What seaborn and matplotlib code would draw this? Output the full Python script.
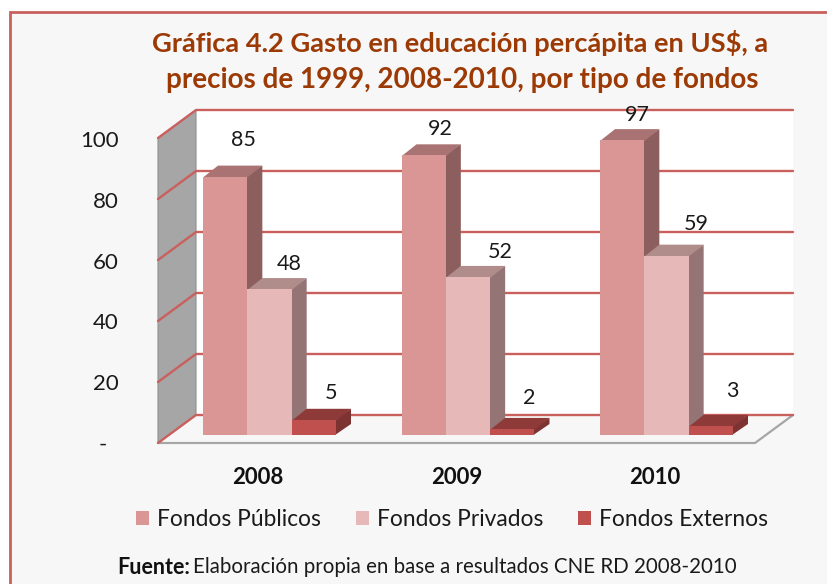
import numpy as np
import pandas as pd
import matplotlib
matplotlib.use('Agg')
import matplotlib.pyplot as plt
from matplotlib.patches import Polygon, Rectangle
from matplotlib.transforms import Affine2D, ScaledTranslation
import seaborn as sns

years = ['2008', '2009', '2010']
fund_names = ['Fondos Públicos', 'Fondos Privados', 'Fondos Externos']
publicos = [85, 92, 97]
privados = [48, 52, 59]
externos = [5, 2, 3]
y_ticks = [0, 20, 40, 60, 80, 100]
y_labels = ['-  ', '20', '40', '60', '80', '100']

front_colors = ['#D99694', '#E6B9B8', '#C0504D']
side_colors = ['#8C5F5E', '#957475', '#7C3331']
top_colors = ['#A87372', '#B08C8A', '#8E3A38']
red_line = '#C9605D'
back_color = '#F7F7F7'

df = pd.DataFrame({
    'year': years * 3,
    'fund': np.repeat(fund_names, 3),
    'value': publicos + privados + externos,
})

W, H = 828, 584
sns.set_theme(style='white')
plt.rcParams['font.family'] = ['Lato', 'DejaVu Sans']

fig = plt.figure(figsize=(W / 100, H / 100), dpi=100, facecolor='white')
# picture coordinates, y going down, for the walls and the frame
px = Affine2D().scale(1 / W, -1 / H).translate(0, 1) + fig.transFigure

fig.add_artist(Rectangle((10, 12), 830, 590, transform=px, facecolor=back_color,
                         edgecolor=red_line, linewidth=2, zorder=-1))

ax = fig.add_axes([170.25 / W, 1 - 435 / H, 595.5 / W, 304 / H])
ax.patch.set_alpha(0)

sns.barplot(data=df, x='year', y='value', hue='fund', hue_order=fund_names, order=years,
            palette=front_colors, saturation=1, width=0.67, gap=0, linewidth=0, edgecolor='none', ax=ax)
ax.set_xlim(-0.5, 2.5)
ax.set_ylim(0, 100)
ax.set_xlabel('')
ax.set_ylabel('')
sns.despine(ax=ax, left=True, bottom=True)

# walls and floor
ax.add_patch(Polygon([(196, 110), (793, 110), (793, 415), (196, 415)], transform=px,
                     facecolor='white', edgecolor='none', zorder=0.5, clip_on=False))
ax.add_patch(Polygon([(158, 138), (196, 110), (196, 415), (158, 443)], transform=px,
                     facecolor='#A6A6A6', edgecolor='#8F8F8F', linewidth=0.8, zorder=0.6, clip_on=False))
ax.add_patch(Polygon([(158, 443), (196, 415), (793, 415), (755, 443)], transform=px,
                     facecolor=back_color, edgecolor='none', zorder=0.6, clip_on=False))
ax.plot([158, 755, 793], [443, 443, 415], transform=px, color='#A6A6A6', lw=1.6, zorder=0.7, clip_on=False)
for v in y_ticks:
    ax.plot([158, 196, 793], [443 - 3.05 * v, 415 - 3.05 * v, 415 - 3.05 * v], transform=px,
            color=red_line, lw=1.7, zorder=0.8, clip_on=False)

# depth of the bars, worked out from the bars seaborn drew
depth_x = 15 / 198.5
depth_y = 11 / 3.04
overlap = 0.005  # side face slides under the front so no gridline shows through
# pixel shift of each value label, public, private then external
label_shift = [(18, 12), (17, 1), (15, 0), (20, 0), (32, 0), (30, 7), (17, 2), (17, 6), (22, 10)]
k = 0
for c, container in enumerate(ax.containers):
    for b, bar in enumerate(container):
        x0, w, h = bar.get_x(), bar.get_width(), bar.get_height()
        order = 2 + b * 4 + c
        bar.set_zorder(order + 0.2)
        bar.set_clip_on(False)
        ax.add_patch(Polygon([(x0 + w - overlap, 0), (x0 + w + depth_x, depth_y), (x0 + w + depth_x, h + depth_y), (x0 + w - overlap, h)],
                             facecolor=side_colors[c], edgecolor='none', zorder=order, clip_on=False))
        ax.add_patch(Polygon([(x0, h - 0.3), (x0 + depth_x, h + depth_y), (x0 + w + depth_x, h + depth_y), (x0 + w, h - 0.3)],
                             facecolor=top_colors[c], edgecolor='none', zorder=order, clip_on=False))
        sx, sy = label_shift[k]
        k += 1
        ax.annotate(str(int(h)), (x0 + w / 2, h), xytext=(sx * 0.72, (sy + 25) * 0.72), textcoords='offset points',
                    ha='center', va='center', fontsize=15.5, color='#1A1A1A', zorder=50, annotation_clip=False)

# axis text
ax.set_yticks(y_ticks)
ax.set_yticklabels(y_labels, fontsize=16, color='#1A1A1A')
ax.tick_params(axis='y', length=0, pad=37)
ax.tick_params(axis='x', length=0, pad=23)
ax.set_xticks(range(len(years)))
ax.set_xticklabels(years, fontsize=16, fontweight='bold', color='#111111')
for lbl in ax.get_yticklabels():
    lbl.set_transform(lbl.get_transform() + ScaledTranslation(0, -8 / 100, fig.dpi_scale_trans))
for lbl in ax.get_xticklabels():
    lbl.set_transform(lbl.get_transform() + ScaledTranslation(-11.5 / 100, 0, fig.dpi_scale_trans))

handles, names = ax.get_legend_handles_labels()
ax.legend(handles, names, ncol=3, frameon=False, loc='center', bbox_to_anchor=(452 / W, 1 - 520 / H),
          bbox_transform=fig.transFigure, fontsize=16.4, handlelength=0.57, handleheight=0.57,
          handletextpad=0.35, columnspacing=1.55, labelcolor='#1A1A1A')

fig.text(460 / W, 1 - 43 / H, 'Gráfica 4.2 Gasto en educación percápita en US$, a', ha='center', va='center',
         fontsize=19.6, fontweight='bold', color='#9C3A06')
fig.text(462 / W, 1 - 80 / H, 'precios de 1999, 2008-2010, por tipo de fondos', ha='center', va='center',
         fontsize=20, fontweight='bold', color='#9C3A06')
fig.text(117 / W, 1 - 567 / H, 'Fuente:', ha='left', va='center', fontsize=15.5, fontweight='bold', color='#111111')
fig.text(193 / W, 1 - 567 / H, 'Elaboración propia en base a resultados CNE RD 2008-2010', ha='left', va='center',
         fontsize=14.8, color='#1A1A1A')

fig.savefig('out.png', dpi=100, facecolor='white')
